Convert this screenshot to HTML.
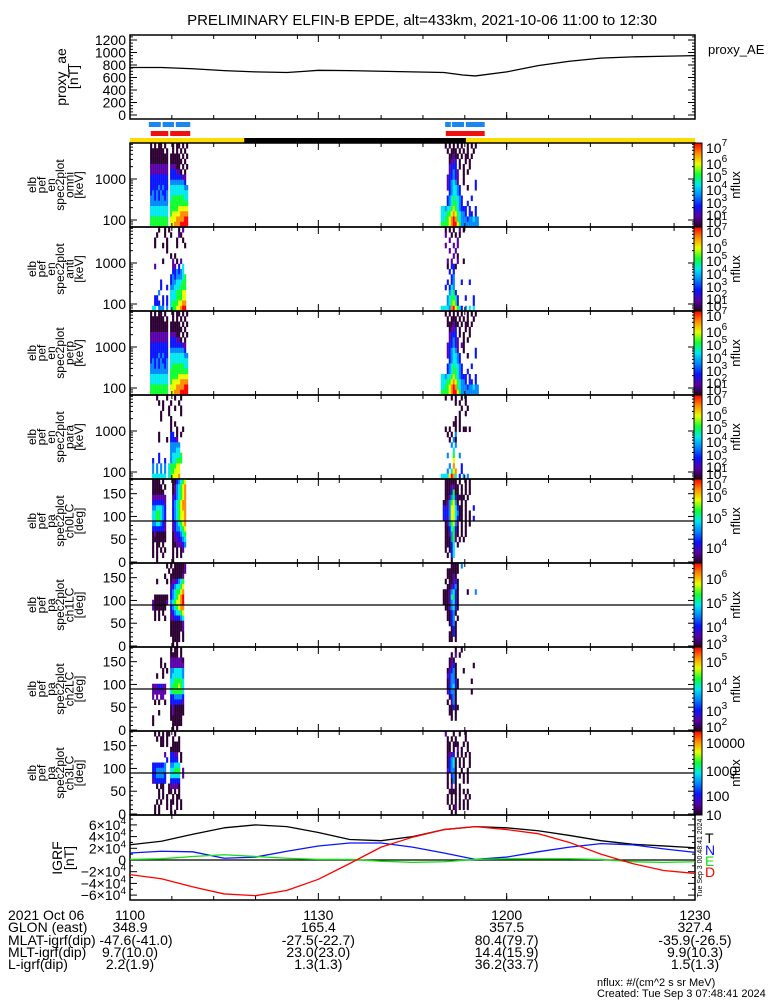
<!DOCTYPE html>
<html><head><meta charset="utf-8">
<style>
html,body{margin:0;padding:0;background:#fff;}
svg{display:block;font-family:"Liberation Sans",sans-serif;}
</style></head>
<body>
<svg id="chart" width="775" height="1000" viewBox="0 0 775 1000" xmlns="http://www.w3.org/2000/svg">
<text x="422" y="25" font-size="15" text-anchor="middle">PRELIMINARY ELFIN-B EPDE, alt=433km, 2021-10-06 11:00 to 12:30</text>
<g id="g"></g>
</svg>
<script>
// ---------- data ----------
const aeTimes=[0,5,10,15,20,25,28,30,35,40,45,50,53,55,60,65,70,75,80,85,90];
const aeValues=[760,760,740,710,690,680,700,715,710,700,690,680,640,625,690,790,860,910,930,940,950];
const aeTicks=[0,200,400,600,800,1000,1200];

const igrfTimes=[0,5,10,15,20,25,30,35,40,45,50,55,60,65,70,75,80,85,90];
const igrfT=[2.6,3.2,4.4,5.5,6.0,5.7,4.7,3.5,3.3,4.0,5.2,5.7,5.5,5.0,4.2,3.3,2.7,2.4,2.1];
const igrfN=[1.2,1.5,1.4,0.3,0.5,1.5,2.4,2.9,2.9,2.2,1.2,0.1,0.5,1.4,2.2,2.8,2.6,1.9,1.3];
const igrfE=[0.1,0.2,0.6,0.9,0.6,0.3,0.1,0.1,-0.2,-0.4,-0.3,0.1,0.2,0.2,0.2,0.1,-0.3,-0.4,-0.3];
const igrfD=[-2.5,-3.2,-4.6,-5.8,-6.1,-5.2,-3.3,-0.6,2.2,3.9,5.2,5.7,5.2,4.5,3.0,1.0,-0.6,-1.8,-2.3];
const igrfTickVals=[-6,-4,-2,0,2,4,6];

const groupStarts=[3.2,49.5];
const colDt=0.3186;
const blueBars=[[3.0,4.9],[5.2,7.0],[7.3,9.6],[50.2,51.1],[51.3,53.2],[53.5,56.5]];
const redBars=[[3.3,6.1],[6.4,9.6],[50.3,56.5]];
const nightSpan=[18.2,53.5];

const omniG1=["1 1 11 1   1 11 1 1","1111111 1  1 1 1 1 ","111111111 11111 1 1","111111111 111111 1 ","222222222 22211 1 1","222222222 333221 1 ","333333333 33333322 ","333333333 44444443 ","333343433 555555544","343434334 555555555","443434434 566666655","444444444 666666666","555555555 666677777","555555555 677778888","666666666 777888899","666666666 778889999"];
const omniG2=["  1 1 1 1 1  1 1 1 ","   1 111 1 1 1  1  ","    11211 1 11 1   ","    1223 1  1 1    ","    2333 1 1  1    ","    23432  1 1     ","   233432  1       ","   234542  1     3 ","   2345543   1   3 ","    345543         ","   34565543    3   ","   34566543  3     ","5545567654333 3  3 ","5556678765443 33 3 ","5566789865444344544","6666789976444444444"];
const antiG1=["    1  1 1    1 2  ","   1   1  1   21   ","  1     1    1  1  ","  1   1 1    1   1 ","        1          ","          1 1      ","      1    2 1 2   ","  2        22 3 5  ","           334345  ","          34344456 ","     3    34455566 ","     3  3 44555666 ","    4     55566677 ","  33  3 3 55566677 ","  333 3 3 56667788 "," 55 444 4 56677899 "];
const antiG2=["  1 1 1  2 1       ","  2  1 1 1         ","    2   2          ","  2   2 2          ","    2  2           ","      2 1          ","   2 2  2  1       ","   1 331           ","    3 3            ","     34            ","   3 34   3   3    ","  3 354            ","    4563           ","   456653   3   3  ","   456763       3  ","55554897653 4 5 5  "];
const perpG1=omniG1;
const perpG2=["  1 1 1 1 1  1 1 1 ","   1 111 1 1 1  1  ","   111211 1 11 1   ","    1223 1  1 1    ","    2333 1 1  1    ","    23432  1 1     ","   233432 21       ","   234542  1     3 ","   2345543   1   3 ","    345543         ","   34565543    3   ","   34566543  3     ","5545567654333 3  3 ","5556678765443 33 3 ","5566789865444344544","6666789976444444444"];
const paraG1=["   1    1   1  1   ","    1 1   1   1    ","      1  1  1  1   ","     1   1     1   ","     1    1        ","          1 1      ","          1  1  1  ","    1     33 1 1   ","    1   1 3332     ","          44444    ","          44455    ","    3     455556   "," 3  3  3  455666   "," 4 4 4 4 566677   "," 4 4 4 4 566777   "," 5555555 567778   "];
const paraG2=["  1  1 1  1 1      ","       1 1  1      ","          1  1     ","         1  1      ","       1 1         ","      11 1         ","  1 1  1 1 11 1    ","   1 1 4           ","    1 41           ","     4 4           ","      5            ","   4  6  4         ","      7            ","    4 8   3        ","   4 578  3        ","55557985 3 4 4     "];
const ch0G1=[" 1111 1    1134567 "," 11111 1   1245678 "," 111111    1245678 "," 2222222   2345678 "," 3333332   3456788 "," 4455543   3456788 "," 5566543   3456778 "," 5566543   3456778 "," 4455432   2345678 "," 3333332   2344567 "," 1211111   1233456 "," 1111111   1223345 "," 1 11 1    1122234 "," 1 1 1 1   1 1 12  "," 1 1  1    1 1 1   ","   1       1       "];
const ch0G2=["  111111 1  1 1    ","  1112211 1 1 1    ","  1113611 1 1 1    ","  1124631111 1     "," 11246741 1 1      "," 3324775311 1   3  "," 3334775411 1 1    "," 3324775311 1 1 3  ","  1246742 1 1 1    ","  1135631 1 1      ","  1124621 1 1      ","  111462 1 1       ","  11135 1          ","  1 135            ","   1 35            ","     1             "];
const ch1G1=["        1 1 111112 ","         1 1111112 ","       1  1111112  ","   1    1 1223456  ","          2345567  ","          3456678  ","  1111111 3456789  "," 21111112 4567789  "," 2111111  3456788  ","  1 1 1   2345567  ","  1 1  1  2233345  ","          1111112  ","          1111112  ","          11111 1  ","           1111 1  ","           1 1     "];
const ch1G2=["     1111 4        ","   111111          ","   11121           ","  1 11231          ","   112341          "," 11124531    1   4 "," 11125631          "," 11124531          ","  1124531          ","   11341           ","   1134 1          ","    1341           ","     131           ","    1131           ","    11 1           ","                   "];
const ch2G1=["          1 11 1   ","          1111 1   ","     1    2222221  ","     1 1  2222222  ","      1 1 4455554  ","   1  1   4555554  ","          5566665  "," 2223322  5666765  "," 2222222  5666665  "," 2 2 22   3344443  ","  1 1  1  3333332  ","          1211111  ","    1     1211111  "," 1        111111   "," 1         11111   ","           1 1     "];
const ch2G2=["       1  1        ","     1 2 1         ","    121            ","    1231        1  ","   12341   1       ","   23441           ","   124431      1   ","   134531          ","   23441       1   ","    1341           ","   1 241           ","    11311          ","    11 1           ","     1 1           ","                   ","                   "];
const ch3G1=["  1 1 1 11  1      ","   1 11 1  1  1    ","     11 1  1111    ","          11111    ","       2  3322 1   ","        3 3333 1   "," 3333334  44555    "," 3344444  55666 2  "," 3344443  55555 2  "," 2333333  33333    ","   1 11  122221    ","    1 1  11 1 1    ","    1 1 1  1 11    ","   1 1  1 11 1 1   ","  1 1   1 1  1 1   ","  1 1     1 1      "];
const ch3G2=["  2   1  1  1      ","   1 1 1    1      ","   11 111  1 1     ","   11 1 2 1  1     ","   1223 1 1 1 1    ","   13451 1 1  1    ","   13451 1 1  1    ","   23441  1  1     ","   1 341 1 1 1     ","   1 141   1 1     ","   1 2 1 1         ","    1111 1 1 1     ","   1 1 1 1  1 1    ","   1 1 1 1 1 1     ","    1 12 1 1 1     ","     1 1           "];

const panelNames=["omni","anti","perp","para","ch0LC","ch1LC","ch2LC","ch3LC"];
const panelData=[[omniG1,omniG2],[antiG1,antiG2],[perpG1,perpG2],[paraG1,paraG2],[ch0G1,ch0G2],[ch1G1,ch1G2],[ch2G1,ch2G2],[ch3G1,ch3G2]];
const energyTicks=[100,1000];
const pitchTicks=[0,50,100,150];
const cbLabels=[
 [["7",4],["6",20],["5",33],["4",46],["3",59],["2",71],["1",78]],
 [["7",4],["6",20],["5",33],["4",46],["3",59],["2",71],["1",78]],
 [["7",4],["6",20],["5",33],["4",46],["3",59],["2",71],["1",78]],
 [["7",4],["6",20],["5",33],["4",46],["3",59],["2",71],["1",78]],
 [["7",5],["6",17],["5",38],["4",68]],
 [["6",15],["5",39],["4",63],["3",80]],
 [["5",14],["4",39],["3",63],["2",79]],
 [["10000",11],["1000",39],["100",64],["10",83]]
];
const timeLabels=["1100","1130","1200","1230"];
const glon=["348.9","165.4","357.5","327.4"];
const mlat=["-47.6(-41.0)","-27.5(-22.7)","80.4(79.7)","-35.9(-26.5)"];
const mlt=["9.7(10.0)","23.0(23.0)","14.4(15.9)","9.9(10.3)"];
const lval=["2.2(1.9)","1.3(1.3)","36.2(33.7)","1.5(1.3)"];

// ---------- helpers ----------
const NS="http://www.w3.org/2000/svg";
const G=document.getElementById('g');
const X0=130,X1=695;
const xs=t=>X0+t/90*(X1-X0);
function mk(tag,attrs,parent){const e=document.createElementNS(NS,tag);for(const k in attrs)e.setAttribute(k,attrs[k]);(parent||G).appendChild(e);return e;}
const cmap=["#ffffff","#2c0033","#5a00a8","#0a14ff","#0088ff","#00e8f0","#10ff30","#e8ff00","#ff8c00","#ff0000"];

// ---------- AE panel ----------
const aeTop=35,aeBot=119;
const yae=v=>115-v*(75/1200);
let f=mk('rect',{x:X0,y:aeTop,width:X1-X0,height:aeBot-aeTop,fill:'none',stroke:'#000','stroke-width':1.5});


for(let v=0;v<=1250;v+=50){const y=yae(v);if(y<aeTop)continue;const L=v%200===0?7:3;
 mk('line',{x1:X0,x2:X0+L,y1:y,y2:y,stroke:'#000'});mk('line',{x1:X1-L,x2:X1,y1:y,y2:y,stroke:'#000'});}
aeTicks.forEach(v=>{const t=mk('text',{x:126,y:yae(v)+5,'font-size':14,'text-anchor':'end'});t.textContent=v;
 
 });
let ap=aeTimes.map((t,i)=>xs(t)+','+yae(aeValues[i])).join(' ');
let ael=mk('polyline',{points:ap,fill:'none',stroke:'#000','stroke-width':1.3});


let at=mk('text',{x:708,y:54,'font-size':13});at.textContent='proxy_AE';


[['proxy_ae',66],['[nT]',78]].forEach(([s,x])=>{const t=mk('text',{x:x,y:77,'font-size':14,'text-anchor':'middle',transform:`rotate(-90 ${x} 77)`});t.textContent=s;
 
 });

function xticks(top,bot){for(let k=0;k<=13;k++){const x=X0+k*(X1-X0)/13.5;mk('line',{x1:x,x2:x,y1:bot,y2:bot-4,stroke:'#000'});mk('line',{x1:x,x2:x,y1:top,y2:top+4,stroke:'#000'});}
 [0,30,60,90].forEach(t=>{mk('line',{x1:xs(t),x2:xs(t),y1:bot,y2:bot-7,stroke:'#000'});mk('line',{x1:xs(t),x2:xs(t),y1:top,y2:top+7,stroke:'#000'});});}
xticks(aeTop,aeBot);

// ---------- status bars ----------
blueBars.forEach(b=>{const r=mk('rect',{x:xs(b[0]),y:122,width:xs(b[1])-xs(b[0]),height:5,fill:'#1a86f0'});
 
 });
redBars.forEach(b=>{const r=mk('rect',{x:xs(b[0]),y:131,width:xs(b[1])-xs(b[0]),height:5,fill:'#f01010'});
 
 });
let yb=mk('rect',{x:X0,y:138,width:X1-X0,height:5,fill:'#ffdc00'});


let nb=mk('rect',{x:xs(nightSpan[0]),y:138,width:xs(nightSpan[1])-xs(nightSpan[0]),height:5,fill:'#000'});



// ---------- colorbar gradient ----------
const defs=mk('defs',{});
const lg=mk('linearGradient',{id:'cb',x1:0,y1:1,x2:0,y2:0},defs);
["#200020","#5a00a8","#0a14ff","#0088ff","#00e8f0","#10ff30","#e8ff00","#ff8c00","#ff0000"].forEach((c,i,a)=>mk('stop',{offset:i/(a.length-1),'stop-color':c},lg));

// ---------- spectrogram panels ----------
const PH=84;
panelData.forEach((groups,i)=>{
 const top=143+PH*i,bot=top+PH,isE=i<4;
 const pg=mk('g',{});
 
 
 groups.forEach((rows,gi)=>{const rh=PH/rows.length;rows.forEach((row,r)=>{for(let j=0;j<row.length;j++){const c=row[j];if(c===' ')continue;
   const x=xs(groupStarts[gi]+j*colDt);
   const cell=mk('rect',{x:x,y:top+r*rh,width:2.1,height:rh+0.3,fill:cmap[+c]},pg);
   
   }});});
 const fr=mk('rect',{x:X0,y:top,width:X1-X0,height:PH,fill:'none',stroke:'#000','stroke-width':1.5});
 
 
 xticks(top,bot);
 if(isE){
  const ye=e=>top+77-Math.log10(e/100)*41;
  for(let d=10;d<=10000;d*=10)for(let m=1;m<10;m++){const e=d*m,y=ye(e);if(y<top||y>bot)continue;const L=m===1?7:3;
   mk('line',{x1:X0,x2:X0+L,y1:y,y2:y,stroke:'#000'});mk('line',{x1:X1-L,x2:X1,y1:y,y2:y,stroke:'#000'});}
  energyTicks.forEach(e=>{const t=mk('text',{x:126,y:ye(e)+5,'font-size':14,'text-anchor':'end'});t.textContent=e;
   
   });
 } else {
  const yp=a=>bot-1-a/180*(PH-2);
  for(let a=0;a<=180;a+=10){const y=yp(a);const L=a%50===0?7:3;
   mk('line',{x1:X0,x2:X0+L,y1:y,y2:y,stroke:'#000'});mk('line',{x1:X1-L,x2:X1,y1:y,y2:y,stroke:'#000'});}
  pitchTicks.forEach(a=>{const t=mk('text',{x:126,y:yp(a)+5,'font-size':14,'text-anchor':'end'});t.textContent=a;
   
   });
  const l=mk('line',{x1:X0,x2:X1,y1:yp(90),y2:yp(90),stroke:'#000','stroke-width':1.3});
  
  
 }
 const lines=['elb','pef',isE?'en':'pa','spec2plot',panelNames[i],isE?'[keV]':'[deg]'];
 const cy=top+PH/2;
 lines.forEach((s,k)=>{const x=36+k*9.4;const t=mk('text',{x:x,y:cy,'font-size':12,'text-anchor':'middle',transform:`rotate(-90 ${x} ${cy})`});t.textContent=s;
  
  });
 const cb=mk('rect',{x:694,y:top,width:8,height:PH,fill:'url(#cb)',stroke:'#000','stroke-width':1});
 
 
 cbLabels[i].forEach(([p,off])=>{const t=mk('text',{x:706,y:top+off+6,'font-size':14});
  if(p.length>1){t.textContent=p;}else{t.textContent='10';const s=mk('tspan',{dy:-7,'font-size':10},t);s.textContent=p;}
  
  });
 const nx=740;const t=mk('text',{x:nx,y:cy,'font-size':13,'text-anchor':'middle',transform:`rotate(-90 ${nx} ${cy})`});t.textContent='nflux';
 
 
});

// ---------- IGRF panel ----------
const iTop=815,iBot=900;
const yi=v=>860-v*5.85;
const ifr=mk('rect',{x:X0,y:iTop,width:X1-X0,height:iBot-iTop,fill:'none',stroke:'#000','stroke-width':1.5});


xticks(iTop,iBot);
for(let v=-7;v<=7;v++){const y=yi(v);if(y<iTop||y>iBot)continue;const L=v%2===0?7:3;
 mk('line',{x1:X0,x2:X0+L,y1:y,y2:y,stroke:'#000'});mk('line',{x1:X1-L,x2:X1,y1:y,y2:y,stroke:'#000'});}
const z=mk('line',{x1:X0,x2:X1,y1:yi(0),y2:yi(0),stroke:'#000','stroke-width':1.3});


igrfTickVals.forEach(v=>{const t=mk('text',{x:126,y:yi(v)+5,'font-size':14,'text-anchor':'end'});
 if(v===0)t.textContent='0';else{t.textContent=(v<0?'\u2212':'')+Math.abs(v)+'\u00d710';const s=mk('tspan',{dy:-6,'font-size':10},t);s.textContent='4';}
 
 });
[['IGRF',62],['[nT]',74]].forEach(([s,x])=>{const t=mk('text',{x:x,y:858,'font-size':14,'text-anchor':'middle',transform:`rotate(-90 ${x} 858)`});t.textContent=s;
 
 });
[[igrfT,'#000','igrf-total-line'],[igrfN,'#0a14ff','igrf-north-line'],[igrfE,'#10e010','igrf-east-line'],[igrfD,'#ff0000','igrf-down-line']].forEach(([arr,c,n])=>{
 const p=mk('polyline',{points:igrfTimes.map((t,i)=>xs(t)+','+yi(arr[i])).join(' '),fill:'none',stroke:c,'stroke-width':1.3,'stroke-linejoin':'round'});
 
 });
[['T','#000',843],['N','#0a14ff',855],['E','#10e010',866],['D','#ff0000',877]].forEach(([s,c,y])=>{const t=mk('text',{x:705,y:y,'font-size':14,fill:c});t.textContent=s;
 
 });
const vt=mk('text',{x:702,y:858,'font-size':7,'text-anchor':'middle',transform:'rotate(-90 702 858)'});vt.textContent='Tue Sep  3 00:48:41 2024';



// ---------- bottom annotation ----------
const rowsY=[920,932,945,957,969];
const heads=['2021 Oct 06','GLON (east)','MLAT-igrf(dip)','MLT-igrf(dip)','L-igrf(dip)'];
heads.forEach((h,k)=>{const t=mk('text',{x:8,y:rowsY[k],'font-size':14});t.textContent=h;
 
 });
[timeLabels,glon,mlat,mlt,lval].forEach((arr,k)=>arr.forEach((s,j)=>{
 const t=mk('text',{x:xs(j*30)+(k===2&&j===0?6:0),y:rowsY[k],'font-size':14,'text-anchor':'middle'});t.textContent=s;
 
 }));
const f1=mk('text',{x:597,y:986,'font-size':11});f1.textContent='nflux: #/(cm^2 s sr MeV)';


const f2=mk('text',{x:597,y:997,'font-size':11});f2.textContent='Created: Tue Sep  3 07:48:41 2024';


</script>
</body></html>
